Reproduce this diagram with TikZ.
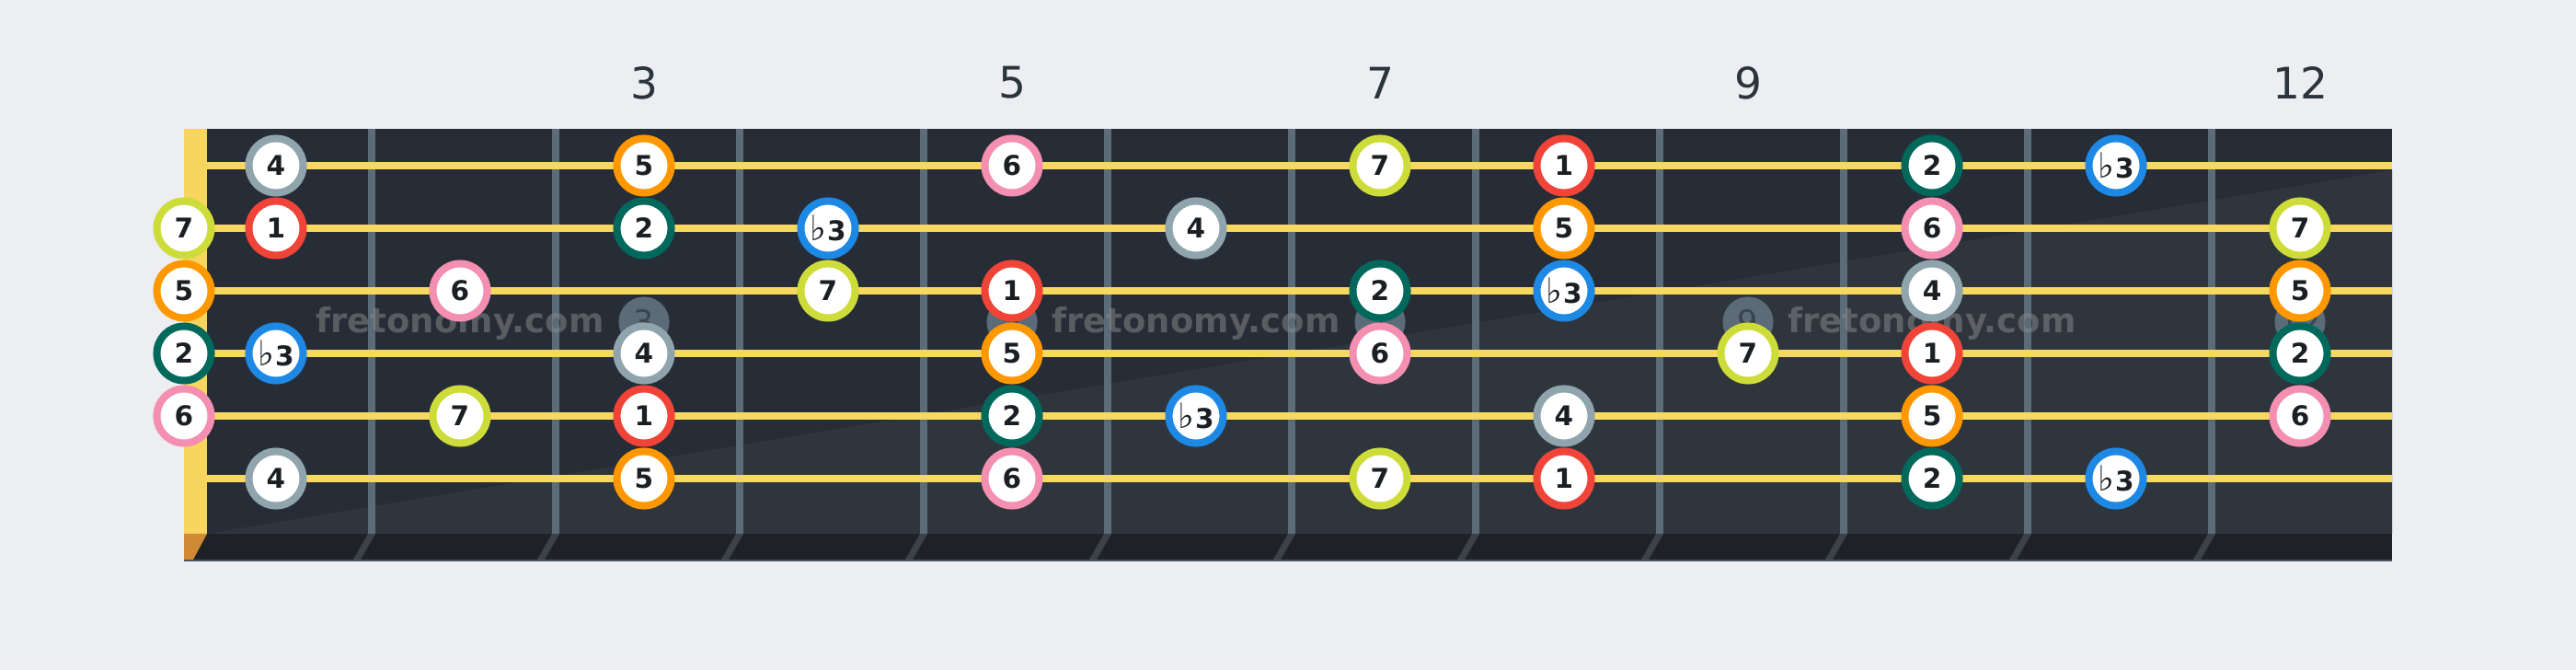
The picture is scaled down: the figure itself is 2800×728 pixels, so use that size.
\documentclass[tikz,border=0pt]{standalone}
\usepackage{fontspec}
\setmainfont{DejaVu Sans}
\definecolor{bg}{HTML}{ECEEF1}
\definecolor{board}{HTML}{272D36}
\definecolor{boardlight}{HTML}{2F353D}
\definecolor{fretc}{HTML}{5B6B78}
\definecolor{strip}{HTML}{1E2226}
\definecolor{stripfret}{HTML}{3C4248}
\definecolor{nutc}{HTML}{F7D55E}
\definecolor{nutbase}{HTML}{D08A34}
\definecolor{stringc}{HTML}{F7D860}
\definecolor{notetext}{HTML}{1B1F24}
\definecolor{fretnum}{HTML}{2B333B}
\definecolor{inlaytext}{HTML}{3A444E}
\definecolor{wm}{HTML}{8C8C8C}
\definecolor{c1}{HTML}{F04438}
\definecolor{c2}{HTML}{00695C}
\definecolor{c3}{HTML}{1E88E5}
\definecolor{c4}{HTML}{90A4AE}
\definecolor{c5}{HTML}{FF9800}
\definecolor{c6}{HTML}{F48FB1}
\definecolor{c7}{HTML}{CDDC39}
\newcommand\flatsign{{\mdseries\fontsize{10.8}{10.8}\selectfont ♭}}
\tikzset{
  x=0.01cm, y=-0.01cm,
  note/.style={circle, draw=#1, fill=white, line width=2.28pt, minimum size=0.59cm,
    inner sep=0pt, text=notetext, font=\bfseries\fontsize{8.4}{8.4}\selectfont},
  inlay/.style={circle, fill=fretc, minimum size=0.55cm, inner sep=0pt,
    text=inlaytext, font=\fontsize{10}{10}\selectfont},
  fretlabel/.style={inner sep=0pt, text=fretnum, font=\fontsize{13.4}{13.4}\selectfont},
  watermark/.style={anchor=base, inner sep=0pt, text=wm, text opacity=0.5,
    font=\bfseries\fontsize{10.5}{10.5}\selectfont},
  stringline/.style={draw=stringc, line width=2.1pt},
}
\begin{document}
\begin{tikzpicture}
\fill[bg] (0,0) rectangle (2800,728);
\useasboundingbox (0,0) rectangle (2800,728);
% board
\fill[board] (200,140) rectangle (2600,580);
\fill[boardlight] (225,580) -- (2600,185) -- (2600,580) -- cycle;
% bottom strip
\fill[strip] (200,580) rectangle (2600,608);
\fill[fretc!80!black] (200,608) rectangle (2600,610);
% frets
\foreach \k in {1,...,11} {
  \pgfmathsetmacro\fx{200*\k+200}
  \fill[fretc] (\fx,140) rectangle ({\fx+8},580);
  \fill[stripfret] (\fx,580) -- ({\fx+8},580) -- ({\fx-8},608) -- ({\fx-16},608) -- cycle;
}
% nut
\fill[nutc] (200,140) rectangle (225,580);
\fill[nutbase] (200,580) -- (225,580) -- (210,608) -- (200,608) -- cycle;
% strings
\foreach \s in {1,...,6} {
  \pgfmathsetmacro\sy{180+68*(\s-1)}
  \coordinate (sa\s) at (225,\sy);
  \coordinate (sb\s) at (2600,\sy);
  \draw[stringline] (sa\s) -- (sb\s);
}
% inlays
\foreach \f in {3,5,7,9,12} {
  \pgfmathsetmacro\ix{100+200*\f}
  \node[inlay] (inl\f) at (\ix,350) {\f};
}
% watermarks
\node[watermark] (wm1) at (500,362) {fretonomy.com};
\node[watermark] (wm2) at (1300,362) {fretonomy.com};
\node[watermark] (wm3) at (2100,362) {fretonomy.com};
% fret numbers
\foreach \f in {3,5,7,9,12} {
  \pgfmathsetmacro\nx{100+200*\f}
  \node[fretlabel] (fn\f) at (\nx,90) {\f};
}
% notes: string/fret/degree
\foreach \s/\f/\d in {
  1/1/4, 1/3/5, 1/5/6, 1/7/7, 1/8/1, 1/10/2, 1/11/3,
  2/0/7, 2/1/1, 2/3/2, 2/4/3, 2/6/4, 2/8/5, 2/10/6, 2/12/7,
  3/0/5, 3/2/6, 3/4/7, 3/5/1, 3/7/2, 3/8/3, 3/10/4, 3/12/5,
  4/0/2, 4/1/3, 4/3/4, 4/5/5, 4/7/6, 4/9/7, 4/10/1, 4/12/2,
  5/0/6, 5/2/7, 5/3/1, 5/5/2, 5/6/3, 5/8/4, 5/10/5, 5/12/6,
  6/1/4, 6/3/5, 6/5/6, 6/7/7, 6/8/1, 6/10/2, 6/11/3} {
  \pgfmathsetmacro\xx{\f==0 ? 200 : 100+200*\f}
  \pgfmathsetmacro\yy{180+68*(\s-1)}
  \node[note=c\d] (n\s-\f) at (\xx,\yy) {\ifnum\d=3 \flatsign\kern0.3pt3\else\d\fi};
}
\end{tikzpicture}
\end{document}
